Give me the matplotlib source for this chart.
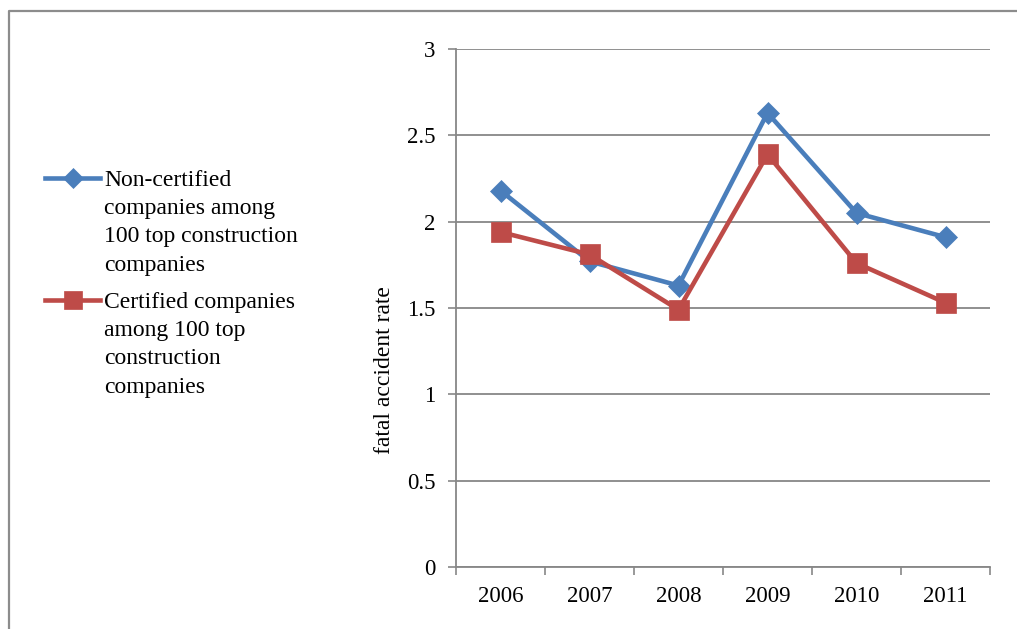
import matplotlib
matplotlib.use("Agg")
import matplotlib.pyplot as plt
from matplotlib.lines import Line2D
import numpy as np

plt.rcParams['font.family'] = ['Liberation Serif', 'DejaVu Serif']

years = ["2006", "2007", "2008", "2009", "2010", "2011"]
non_certified = [2.18, 1.77, 1.63, 2.63, 2.05, 1.91]
certified = [1.94, 1.81, 1.49, 2.39, 1.76, 1.53]
y_ticks = [0, 0.5, 1, 1.5, 2, 2.5, 3]
y_tick_labels = ["0", "0.5", "1", "1.5", "2", "2.5", "3"]

label_non = "Non-certified\ncompanies among\n100 top construction\ncompanies"
label_cert = "Certified companies\namong 100 top\nconstruction\ncompanies"
y_label = "fatal accident rate"

BLUE = "#4A7EBB"
RED = "#BE4B48"
GRID = "#878787"

W, H = 1017, 629
fig = plt.figure(figsize=(W / 100, H / 100), dpi=100)


def px(x, y):
    return x / W, 1 - y / H


# outer chart frame
frame = Line2D([9 / W, 9 / W, 1.0], [0.0, 1 - 11 / H, 1 - 11 / H],
               transform=fig.transFigure, color="#8c8c8c", lw=1.6)
fig.add_artist(frame)

left, right, top, bottom = 456, 990, 49, 567
ax = fig.add_axes([left / W, 1 - bottom / H, (right - left) / W, (bottom - top) / H])

x = np.arange(len(years))
ax.plot(x, non_certified, color=BLUE, lw=3.3, marker='D', ms=11.5,
        mfc=BLUE, mec=BLUE, mew=0.5, zorder=3)
ax.plot(x, certified, color=RED, lw=3.3, marker='s', ms=14,
        mfc=RED, mec=RED, mew=0.5, zorder=4)

ax.set_xlim(-0.5, len(years) - 0.5)
ax.set_ylim(0, 3)
ax.set_yticks(y_ticks)
ax.set_yticklabels(y_tick_labels)
ax.set_xticks(x)
ax.set_xticklabels(years)
ax.set_xticks(np.arange(-0.5, len(years)), minor=True)

ax.tick_params(axis='x', which='major', length=0, pad=14, labelsize=16.5)
ax.tick_params(axis='x', which='minor', length=6, width=1.2, color=GRID, direction='out')
ax.tick_params(axis='y', which='major', length=6, width=1.2, color=GRID,
               direction='out', pad=9, labelsize=16.5)

ax.grid(axis='y', color=GRID, lw=1.3, zorder=0)
ax.set_axisbelow(True)
for s in ('top', 'right'):
    ax.spines[s].set_visible(False)
for s in ('left', 'bottom'):
    ax.spines[s].set_color(GRID)
    ax.spines[s].set_linewidth(1.3)

fig.text(*px(384, 370), y_label, rotation=90, ha='center', va='center', fontsize=17)

# legend drawn at the left of the chart
for y0, color, marker, ms, text in [(178, BLUE, 'D', 10, label_non),
                                    (300, RED, 's', 13, label_cert)]:
    fig.add_artist(Line2D([45 / W, 100 / W], [1 - y0 / H] * 2,
                          transform=fig.transFigure, color=color, lw=3.3))
    fig.add_artist(Line2D([72.5 / W], [1 - y0 / H], transform=fig.transFigure,
                          color=color, marker=marker, ms=ms, mew=0.5, mec=color))
    fig.text(104 / W, 1 - (y0 - 8) / H, text, ha='left', va='top',
             fontsize=17, linespacing=1.45)

fig.savefig("out.png", dpi=100)
